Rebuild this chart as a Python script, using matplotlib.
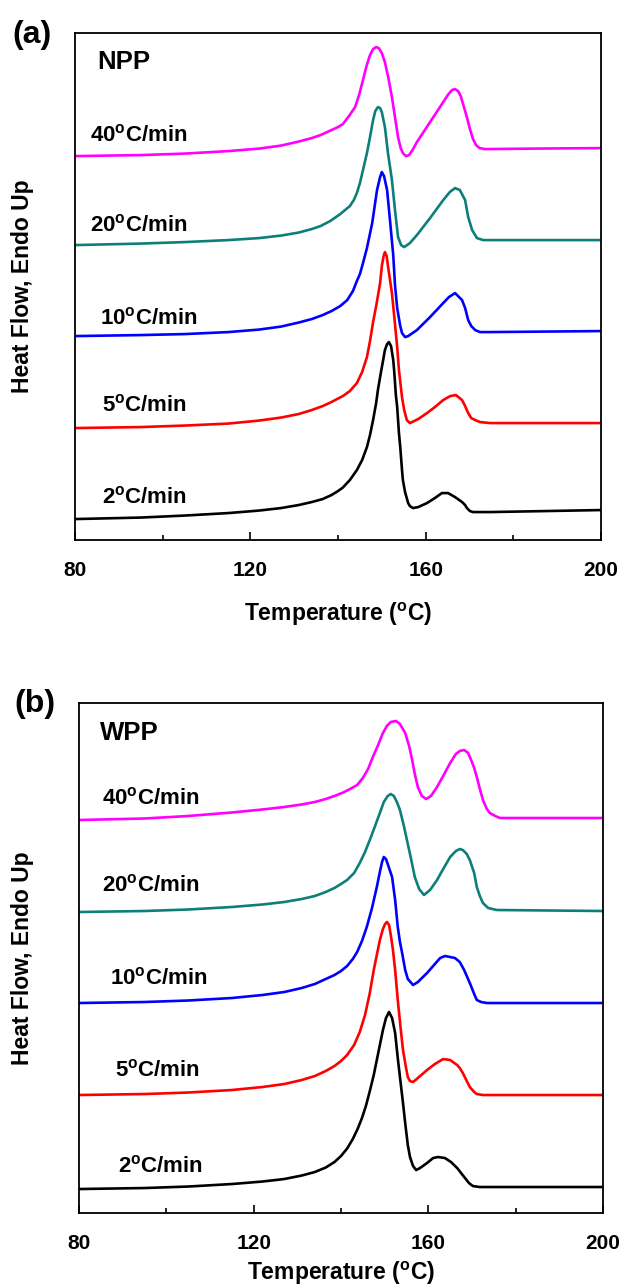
import matplotlib
matplotlib.use("Agg")
import matplotlib.pyplot as plt
from matplotlib.ticker import MultipleLocator

plt.rcParams["font.family"] = ["Liberation Sans", "DejaVu Sans"]
plt.rcParams["font.weight"] = "bold"
plt.rcParams["mathtext.fontset"] = "custom"
plt.rcParams["mathtext.rm"] = "Liberation Sans:bold"
plt.rcParams["mathtext.bf"] = "Liberation Sans:bold"

# ---------------- NPP (panel a): temperature (C) and heat flow (arb. units, stacked)
npp_t_40 = [80, 95, 105, 115, 122, 127, 131, 134, 136, 138, 140, 141.1, 142.5, 143.9, 144.8, 145.7,
            146.5, 147.3, 148.0, 148.7, 149.3, 150.0, 150.7, 151.5, 152.3, 153.0, 153.7, 154.3, 154.8,
            155.5, 156.2, 157.0, 158.0, 159.5, 161.0, 162.5, 164.0, 165.2, 166.0, 166.7, 167.4, 168.0,
            168.6, 169.4, 170.1, 170.8, 171.5, 172.3, 173.5, 185, 200]
npp_h_40 = [384, 385, 386.5, 389, 391.5, 394.5, 398.5, 402, 405, 409, 413, 416, 424, 433, 445, 460,
            474, 485, 491, 493, 492, 487, 478, 462, 443, 423, 403, 392, 387,
            384, 385, 390, 398, 408, 418, 428, 438, 446, 450, 451, 449, 444,
            435, 423, 411, 401, 395, 392, 391, 391.5, 392]

npp_t_20 = [80, 95, 105, 115, 122, 127, 131, 134, 136, 138.2, 140.5, 142.7, 143.6, 144.3, 145.0, 145.7,
            146.6, 147.3, 148.0, 148.5, 149.1, 149.6, 150.0, 150.7, 151.4, 152.3, 153.0, 153.7, 154.4,
            155.1, 156.4, 158.0, 161.0, 164.0, 165.5, 166.7, 167.8, 169.0, 169.7, 170.6, 171.7, 173.1, 200]
npp_h_20 = [295, 296.5, 298, 300, 302, 304.5, 307.5, 311, 314, 319, 326, 334, 340, 347, 357, 370,
            387, 403, 420, 429, 433, 432, 428, 413, 387, 360, 330, 303, 295,
            293, 297, 305, 322, 340, 348, 352, 350, 340, 323, 310, 302, 300, 300]

npp_t_10 = [80, 95, 105, 115, 122, 127, 131, 134, 136.5, 138.5, 140.5, 142.1, 143.4, 144.3, 145.0, 145.7,
            146.6, 147.8, 148.9, 149.6, 150.0, 150.5, 151.2, 151.9, 152.6, 153.0, 153.5, 154.2, 154.6,
            155.3, 156.0, 158.0, 161.0, 164.0, 165.3, 166.7, 168.3, 169.0, 169.7, 170.4, 171.3, 172.4,
            174.7, 200]
npp_h_10 = [204, 205, 206, 208, 210.5, 213.5, 217.5, 221, 225, 229, 234, 240, 249, 259, 266, 277,
            292, 317, 350, 363, 368, 364, 350, 318, 285, 255, 232, 214, 207,
            203, 204, 210, 223, 237, 243, 247, 240, 232, 220, 214, 210, 208,
            208, 209]

npp_t_5 = [80, 95, 105, 115, 122, 127, 131, 134, 136.5, 138.5, 140, 141.1, 142.7, 144.3, 145.5, 146.6,
           147.3, 148.0, 148.7, 149.1, 149.6, 150.0, 150.4, 150.7, 151.1, 151.4, 151.9, 152.3, 152.8,
           153.5, 153.9, 154.6, 155.1, 155.7, 156.4, 158.3, 160.3, 162.1, 164.0, 165.6, 166.9, 168.3,
           169.0, 169.7, 170.4, 171.3, 172.4, 174.7, 200]
npp_h_5 = [112, 113, 114.5, 116.5, 119.5, 122.5, 126, 130, 134, 138, 141.5, 144, 149, 157, 168, 183,
           199, 218, 234, 244, 257, 274, 284, 288, 284, 274, 259, 247, 225,
           193, 170, 143, 130, 120, 117, 121, 127, 133, 140, 144, 145, 140,
           134, 127, 122, 120, 118, 117, 117]

npp_t_2 = [80, 95, 105, 115, 122, 127, 131, 134, 136.5, 138.5, 140, 141.1, 142.7, 144.3, 145.5, 146.6,
           147.3, 148.0, 148.7, 149.1, 149.8, 150.3, 150.7, 151.2, 151.6, 152.1, 152.6, 152.8, 153.2,
           153.5, 153.9, 154.2, 154.6, 154.8, 155.3, 156.0, 156.4, 157.1, 158.3, 160.3, 162.1, 163.7,
           165.1, 166.7, 168.3, 169.0, 169.4, 170.1, 170.8, 174.7, 200]
npp_h_2 = [21, 22.5, 24.5, 27, 29.5, 32, 35, 38, 41, 45, 49, 52.5, 60, 70, 80, 93,
           105, 120, 137, 150, 168, 180, 190, 196, 198, 194, 180, 170, 145,
           133, 107, 93, 70, 60, 48, 37, 34, 32, 33, 37, 42, 47,
           47, 43, 38, 35, 32, 29, 28, 28, 30]

# ---------------- WPP (panel b)
wpp_t_40 = [80, 95, 105, 115, 122, 127, 131, 134, 136.5, 138.5, 140.5, 142.1, 143.7, 145.0, 146.2, 147.3,
            148.5, 149.6, 150.5, 151.4, 152.6, 153.5, 154.7, 155.6, 156.3, 156.9, 157.6, 158.5, 159.5,
            160.6, 162.0, 163.4, 165.0, 166.3, 167.2, 168.2, 169.1, 169.8, 170.5, 171.1, 171.8, 172.5,
            173.4, 174.1, 175.3, 176.4, 200]
wpp_h_40 = [393, 394.5, 397, 400.5, 403.5, 406, 408.5, 411, 414, 417, 420.5, 424, 428, 435, 444, 456,
            468, 480, 487, 491, 492, 489, 480, 467, 453, 439, 426, 417, 414,
            417, 426, 437, 450, 459, 462, 463, 460, 453, 445, 436, 424, 413,
            404, 400, 397, 395, 395]

wpp_t_20 = [80, 95, 105, 115, 122, 127, 131, 134, 136.5, 138.5, 140, 141.4, 143.0, 144.3, 145.5, 146.6,
            147.8, 148.9, 149.8, 150.7, 151.4, 152.1, 152.8, 153.5, 154.4, 155.1, 156.0, 156.9, 157.9,
            159.0, 160.4, 162.0, 163.4, 165.0, 166.3, 167.2, 167.9, 168.8, 169.5, 170.5, 171.1, 171.8,
            172.5, 173.7, 175.7, 200]
wpp_h_20 = [301, 302, 303.5, 306, 308.5, 311, 314, 317, 321, 325, 329, 333, 340, 350, 361, 373,
            387, 400, 411, 417, 419, 417, 411, 403, 387, 373, 355, 336, 324,
            318, 323, 333, 344, 356, 362, 364, 363, 359, 353, 340, 326, 317,
            310, 305, 303, 302]

wpp_t_10 = [80, 95, 105, 115, 122, 127, 131, 134, 136.5, 138.5, 140, 141.4, 142.7, 143.7, 144.8, 145.9,
            147.1, 148.2, 148.9, 149.4, 149.8, 150.3, 150.7, 151.7, 152.4, 153.0, 153.5, 154.0, 154.7,
            155.3, 156.5, 157.6, 159.7, 161.3, 162.7, 163.8, 165.0, 166.1, 167.2, 168.2, 168.8, 169.5,
            170.5, 171.1, 172.1, 173.4, 200]
wpp_h_10 = [210, 211, 212.5, 215, 218, 221, 225, 229, 234, 238, 242, 247, 254, 261, 272, 286,
            305, 326, 341, 351, 356, 354, 349, 336, 313, 286, 271, 260, 243,
            234, 228, 231, 240, 248, 255, 257, 256, 255, 251, 243, 237, 230,
            219, 213, 211, 210, 210]

wpp_t_5 = [80, 95, 105, 115, 122, 127, 131, 134, 136.5, 138.5, 140, 141.4, 143.0, 144.3, 145.5, 146.6,
           147.5, 148.2, 148.9, 149.6, 150.1, 150.5, 151.0, 151.4, 151.9, 152.4, 153.0, 153.7, 154.2,
           154.9, 155.3, 155.8, 156.5, 157.6, 159.7, 161.5, 163.4, 165.0, 166.6, 167.2, 167.9, 168.8,
           169.5, 170.5, 171.1, 172.5, 200]
wpp_h_5 = [118, 119, 120.5, 123, 126, 129, 133, 137, 142, 147, 152, 158, 168, 181, 198, 220,
           243, 258, 273, 284, 289, 291, 288, 278, 263, 243, 213, 183, 163,
           145, 136, 132, 131, 135, 143, 149, 154, 153, 148, 145, 140, 132,
           126, 121, 119, 118, 118]

wpp_t_2 = [80, 95, 105, 115, 122, 127, 131, 134, 136.5, 138.5, 140.0, 141.4, 142.7, 143.8, 144.8, 145.7,
           146.6, 147.5, 148.2, 148.9, 149.6, 150.3, 151.0, 151.7, 152.4, 153.0, 153.5, 154.2, 154.7,
           155.3, 155.8, 156.5, 157.2, 158.1, 159.7, 161.1, 162.2, 163.8, 165.2, 166.6, 167.5, 168.4,
           169.3, 170.2, 171.8, 200]
wpp_h_2 = [24, 25, 26.5, 29, 31.5, 34, 37.5, 41, 45.5, 51, 57, 64.5, 74, 84, 95, 107,
           122, 138, 153, 168, 183, 195, 201, 195, 180, 155, 136, 110, 90,
           68, 56, 47, 43, 45, 50, 55, 56, 55, 51, 45, 40, 35,
           30, 27, 26, 26]

rate_labels = ["40", "20", "10", "5", "2"]
rate_colors = ["#ff00ff", "#0e7f78", "#0000ff", "#ff0000", "#000000"]

npp_curves = [(npp_t_40, npp_h_40), (npp_t_20, npp_h_20), (npp_t_10, npp_h_10),
              (npp_t_5, npp_h_5), (npp_t_2, npp_h_2)]
wpp_curves = [(wpp_t_40, wpp_h_40), (wpp_t_20, wpp_h_20), (wpp_t_10, wpp_h_10),
              (wpp_t_5, wpp_h_5), (wpp_t_2, wpp_h_2)]

# label anchor (temperature, heat flow) for each rate label
npp_label_pos = [(83.4, 405), (83.4, 315), (85.7, 222), (86.2, 135), (86.2, 43)]
wpp_label_pos = [(85.3, 415), (85.3, 328), (87.1, 235), (88.2, 143), (88.9, 47)]

xticks_major = [80, 120, 160, 200]

fig = plt.figure(figsize=(6.23, 12.88), dpi=100)
ax_a = fig.add_axes([0.1204, 0.5807, 0.8443, 0.3936])
ax_b = fig.add_axes([0.1268, 0.0582, 0.8411, 0.3960])


def draw_panel(ax, curves, label_pos, sample, sample_pos, ymax, ylab_x, xlab_pad):
    for (t, h), c in zip(curves, rate_colors):
        ax.plot(t, h, color=c, lw=1.9, solid_joinstyle="round", solid_capstyle="round")
    for r, (x, y) in zip(rate_labels, label_pos):
        ax.text(x, y, r + r"$^{\mathbf{o}}$C/min", fontsize=16, fontweight="bold",
                ha="left", va="center")
    ax.text(sample_pos[0], sample_pos[1], sample, fontsize=18.5, fontweight="bold",
            ha="left", va="center")
    ax.set_xlim(80, 200)
    ax.set_ylim(0, ymax)
    ax.set_xticks(xticks_major)
    ax.xaxis.set_minor_locator(MultipleLocator(20))
    ax.set_yticks([])
    ax.tick_params(axis="x", which="major", direction="in", length=6, width=1.2,
                   pad=15, labelsize=15)
    ax.tick_params(axis="x", which="minor", direction="in", length=3.5, width=1.2)
    for s in ax.spines.values():
        s.set_linewidth(1.3)
    ax.set_xlabel(r"Temperature ($^{\mathbf{o}}$C)", fontsize=16.5, fontweight="bold",
                  labelpad=xlab_pad)
    ax.set_ylabel("Heat Flow, Endo Up", fontsize=16.5, fontweight="bold")
    ax.yaxis.set_label_coords(ylab_x, 0.5)


draw_panel(ax_a, npp_curves, npp_label_pos, "NPP", (85.0, 478), 507, -0.078, 15)
draw_panel(ax_b, wpp_curves, wpp_label_pos, "WPP", (84.8, 480), 510, -0.0865, 5)

fig.text(0.020, 0.973, "(a)", fontsize=23, fontweight="bold", ha="left", va="center")
fig.text(0.023, 0.4534, "(b)", fontsize=23, fontweight="bold", ha="left", va="center")

fig.savefig("out.png", dpi=100)
